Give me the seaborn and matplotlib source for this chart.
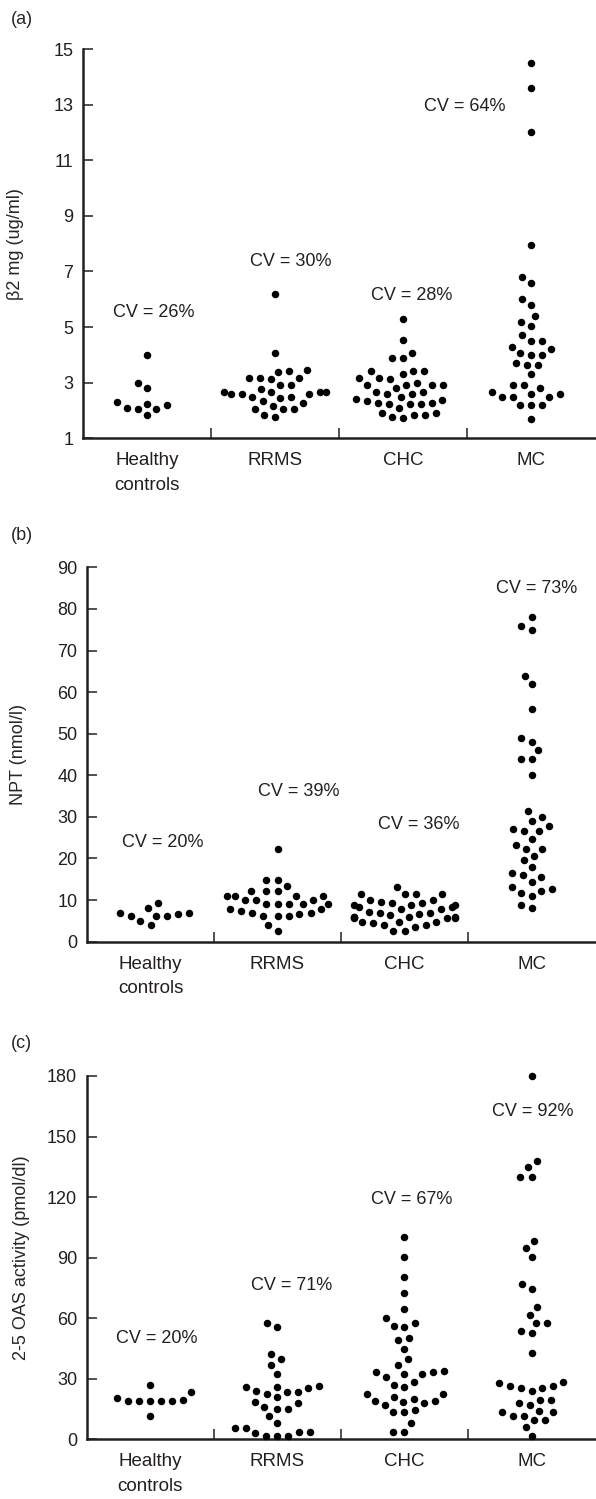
import pandas as pd
import seaborn as sns
import matplotlib.pyplot as plt
import matplotlib.ticker as mticker

groups = ["Healthy\ncontrols", "RRMS", "CHC", "MC"]

# (a) beta2 microglobulin (ug/ml)
b2m_healthy = [2.05, 2.3, 4.0, 3.0, 2.2, 1.85, 2.8, 2.25, 2.05, 2.1]
b2m_rrms = [2.68, 2.16, 2.59, 3.18, 2.47, 2.04, 2.68, 3.46, 2.92, 1.84,
            3.18, 2.59, 2.28, 6.19, 4.08, 3.40, 2.92, 2.68, 2.04, 2.44,
            2.76, 2.04, 3.18, 3.12, 3.43, 2.47, 2.68, 2.59, 2.35, 1.78]
b2m_chc = [3.00, 2.38, 2.59, 3.88, 2.92, 1.90, 2.68, 2.22, 3.30, 2.92,
           1.84, 3.43, 2.92, 2.26, 1.78, 5.28, 3.88, 3.12, 2.68, 2.22,
           1.72, 1.90, 3.43, 4.08, 2.80, 2.35, 3.18, 2.41, 2.08, 4.53,
           3.18, 2.59, 2.22, 3.43, 2.92, 2.26, 1.84, 2.47]
b2m_mc = [14.5, 13.6, 12.0, 7.95, 6.8, 6.6, 6.0, 5.8, 5.4, 5.2, 5.05, 4.7,
          4.5, 4.5, 4.3, 4.2, 4.05, 4.0, 4.0, 3.7, 3.65, 3.65, 3.3, 2.9,
          2.9, 2.8, 2.65, 2.6, 2.6, 2.5, 2.5, 2.5, 2.2, 2.2, 2.2, 1.7]
b2m_cv = ["CV = 26%", "CV = 30%", "CV = 28%", "CV = 64%"]

# (b) neopterin (nmol/l)
npt_healthy = [7.0, 8.0, 6.2, 4.0, 9.2, 6.8, 5.0, 6.2, 6.2, 6.6]
npt_rrms = [10.0, 7.0, 9.1, 6.2, 11.0, 14.8, 11.0, 6.7, 9.1, 9.1,
            12.2, 6.2, 22.2, 13.5, 11.0, 7.4, 2.6, 4.0, 12.2, 10.0,
            7.9, 14.8, 12.2, 7.9, 6.2, 9.1, 7.0, 10.0, 11.0, 9.1]
npt_chc = [6.0, 4.0, 8.4, 5.6, 10.0, 4.0, 7.8, 11.4, 8.8, 6.0,
           3.5, 9.2, 7.0, 2.6, 9.6, 5.6, 11.4, 8.4, 4.6, 7.0,
           13.2, 8.8, 4.8, 10.0, 7.2, 6.0, 11.4, 8.8, 6.4, 4.8,
           2.6, 11.4, 7.8, 5.6, 4.8, 9.2, 6.7, 6.0]
npt_mc = [78, 76, 75, 64, 62, 56, 49, 48, 46, 44, 44, 40, 31.4, 30, 29,
          27.8, 27, 26.6, 26.6, 24.8, 23.2, 22.3, 22.2, 20.5, 19.7, 17.9,
          16.6, 16, 15.6, 14.4, 13.1, 12.6, 12.2, 11.8, 11.0, 8.7, 8.2]
npt_cv = ["CV = 20%", "CV = 39%", "CV = 36%", "CV = 73%"]

# (c) 2-5 OAS activity (pmol/dl)
oas_healthy = [19, 20.5, 19, 19, 27, 11.5, 19.5, 23.3, 19, 19]
oas_rrms = [23.3, 5.4, 26.1, 16.2, 11.5, 3.5, 39.6, 25.3, 1.8, 20.8,
            57.5, 15.0, 3.0, 32.4, 24.1, 55.8, 36.8, 18.6, 1.8, 22.4,
            7.9, 26.6, 42.3, 23.3, 15.0, 1.8, 26.1, 17.8, 5.4, 3.5]
oas_chc = [100.4, 90.5, 80.6, 72.6, 64.6, 55.5, 60.3, 56.3, 57.5, 49.2,
           50.0, 44.9, 39.6, 36.8, 34.0, 33.2, 32.4, 33.2, 32.4, 30.7,
           26.9, 26.1, 28.5, 22.4, 22.4, 21.1, 19.1, 19.8, 19.0, 18.6,
           17.8, 17.0, 13.4, 13.4, 14.5, 7.9, 3.8, 3.8]
oas_mc = [180, 138, 135, 130, 130, 98.5, 95, 90.5, 77, 74.3, 65.4, 61.6,
          57.5, 57.5, 53.8, 52.8, 42.9, 28.5, 27.7, 26.6, 26.6, 25.3, 25.3,
          24.1, 19.5, 19.5, 17.8, 17.0, 14.2, 13.4, 13.4, 11.7, 11.5, 9.6,
          9.6, 6.2, 1.8]
oas_cv = ["CV = 20%", "CV = 71%", "CV = 67%", "CV = 92%"]

sns.set_style("ticks")
plt.rcParams["font.family"] = ["Liberation Sans", "DejaVu Sans"]
plt.rcParams["font.size"] = 13

INK = "#231f20"


def make_df(lists):
    rows = []
    for g, vals in zip(groups, lists):
        for v in vals:
            rows.append({"group": g, "value": v})
    return pd.DataFrame(rows)


def draw_panel(ax, lists, ylabel, ylim, yticks, cv_labels, cv_pos, label_x):
    df = make_df(lists)
    # swarm is laid out with a bigger marker so the dots end up loosely spaced
    sns.swarmplot(data=df, x="group", y="value", order=groups, color="black",
                  size=7.6, ax=ax, clip_on=False)
    ax.set_xlim(-0.5, 3.5)
    ax.set_ylim(*ylim)
    ax.set_yticks(yticks)
    ax.set_xlabel("")
    ax.set_ylabel(ylabel, fontsize=13)
    ax.yaxis.set_label_coords(label_x, 0.5)
    sns.despine(ax=ax)
    for side in ["left", "bottom"]:
        ax.spines[side].set_linewidth(1.8)
        ax.spines[side].set_color(INK)
    ax.tick_params(axis="y", direction="in", length=7, width=1.1,
                   labelsize=13, pad=7, colors=INK)
    ax.tick_params(axis="x", which="major", length=0, labelsize=13.5, pad=10,
                   colors=INK)
    ax.xaxis.set_minor_locator(mticker.FixedLocator([0.5, 1.5, 2.5]))
    ax.tick_params(axis="x", which="minor", direction="in", length=7,
                   width=1.1, color=INK)
    for t in ax.get_xticklabels():
        t.set_linespacing(1.6)
        t.set_verticalalignment("top")
    for txt, (x, y) in zip(cv_labels, cv_pos):
        ax.text(x, y, txt, ha="center", va="center", fontsize=13, color=INK)


fig = plt.figure(figsize=(5.96, 14.99), dpi=100)

ax_a = fig.add_axes([0.1393, 0.7076, 0.8590, 0.2597])
ax_b = fig.add_axes([0.1460, 0.3718, 0.8525, 0.2497])
ax_c = fig.add_axes([0.1455, 0.0398, 0.8530, 0.2424])

draw_panel(ax_a, [b2m_healthy, b2m_rrms, b2m_chc, b2m_mc], "β2 mg (ug/ml)",
           (1, 15), list(range(1, 16, 2)), b2m_cv,
           [(0.05, 5.54), (1.12, 7.35), (2.07, 6.12), (2.48, 12.92)], -0.115)
draw_panel(ax_b, [npt_healthy, npt_rrms, npt_chc, npt_mc], "NPT (nmol/l)",
           (0, 90), list(range(0, 91, 10)), npt_cv,
           [(0.10, 23.8), (1.17, 36.1), (2.11, 28.1), (3.04, 84.8)], -0.118)
draw_panel(ax_c, [oas_healthy, oas_rrms, oas_chc, oas_mc],
           "2-5 OAS activity (pmol/dl)",
           (0, 180), list(range(0, 181, 30)), oas_cv,
           [(0.05, 50), (1.11, 76), (2.06, 119), (3.01, 162.3)], -0.111)

fig.text(0.036, 0.9867, "(a)", ha="center", va="center", fontsize=13)
fig.text(0.036, 0.643, "(b)", ha="center", va="center", fontsize=13)
fig.text(0.036, 0.304, "(c)", ha="center", va="center", fontsize=13)

# run the swarm layout once, keep those positions, then shrink the dots
fig.canvas.draw()
for ax in [ax_a, ax_b, ax_c]:
    for coll in ax.collections:
        if "draw" in coll.__dict__:
            del coll.draw
        coll.set_sizes([5.4 ** 2])

fig.savefig("out.png", dpi=100)
